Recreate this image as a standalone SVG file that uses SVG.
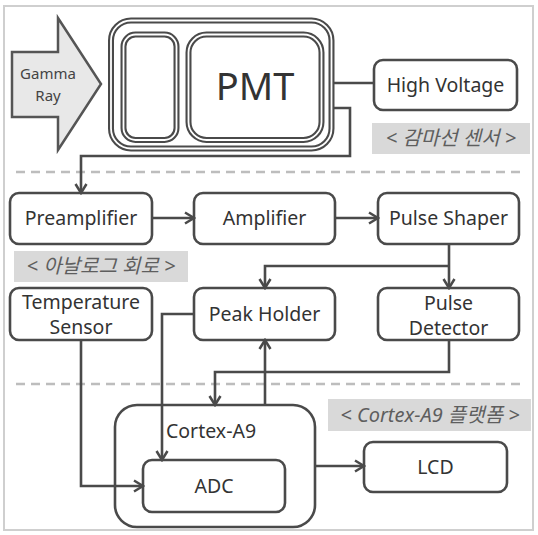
<svg xmlns="http://www.w3.org/2000/svg" width="538" height="535" viewBox="0 0 538 535">
<defs>
<marker id="arr" markerUnits="userSpaceOnUse" markerWidth="14" markerHeight="14" viewBox="0 0 14 14" refX="12" refY="7" orient="auto">
<path d="M3,1.5 L12,7 L3,12.5" fill="none" stroke="#4a4a4a" stroke-width="2.5" stroke-linejoin="miter"/>
</marker>
<style>
.box{fill:#fff;stroke:#4a4a4a;stroke-width:2.6}
.dbl{fill:none;stroke:#4a4a4a;stroke-width:6}
.dblw{fill:none;stroke:#fff;stroke-width:1.8}
.t{font-family:"Noto Sans","Open Sans","Noto Sans CJK KR",sans-serif;font-size:19.5px;fill:#333;text-anchor:middle}
.lbl{fill:#d9d9d9}
.lt{font-family:"Noto Sans","Noto Sans CJK KR",sans-serif;font-size:20px;font-style:italic;fill:#5e5e5e;text-anchor:middle}
.c{fill:none;stroke:#4a4a4a;stroke-width:2.6}
.dash{stroke:#bdbdbd;stroke-width:2.5;stroke-dasharray:9 6}
</style>
</defs>
<rect x="0" y="0" width="538" height="535" fill="#fff"/>
<rect x="4" y="6" width="529" height="524" fill="none" stroke="#cfcfcf" stroke-width="2"/>

<line class="dash" x1="16" y1="172" x2="522" y2="172"/>
<line class="dash" x1="16" y1="384" x2="522" y2="384"/>

<g id="gamma">
<polygon points="12,52 58,52 58,18 101,84 58,150 58,117 12,117" fill="#e8e8e8" stroke="#555" stroke-width="2.5"/>
<text class="t" x="48" y="79" style="font-size:15px;fill:#444">Gamma</text>
<text class="t" x="48" y="101" style="font-size:15px;fill:#444">Ray</text>
</g>

<g id="pmt">
<rect class="dbl" x="111" y="20.5" width="220.5" height="128" rx="20"/>
<rect class="dblw" x="111" y="20.5" width="220.5" height="128" rx="20"/>
<rect class="dbl" x="123.5" y="34.5" width="53" height="105.5" rx="12"/>
<rect class="dblw" x="123.5" y="34.5" width="53" height="105.5" rx="12"/>
<rect class="dbl" x="188.5" y="34.5" width="133" height="105.5" rx="18"/>
<rect class="dblw" x="188.5" y="34.5" width="133" height="105.5" rx="18"/>
<text class="t" x="255" y="100" style="font-size:38px">PMT</text>
</g>

<g id="hv">
<rect class="box" x="374" y="60" width="143" height="50" rx="9"/>
<text class="t" x="445.5" y="92">High Voltage</text>
</g>

<g id="label1">
<rect class="lbl" x="372" y="123" width="158" height="31"/>
<text class="lt" x="451" y="145">&lt; 감마선 센서 &gt;</text>
</g>

<g id="preamp">
<rect class="box" x="10" y="193" width="142" height="51" rx="9"/>
<text class="t" x="81" y="225">Preamplifier</text>
</g>
<g id="amp">
<rect class="box" x="194" y="193" width="141" height="51" rx="9"/>
<text class="t" x="264.5" y="225">Amplifier</text>
</g>
<g id="shaper">
<rect class="box" x="378" y="193" width="141" height="51" rx="9"/>
<text class="t" x="448.5" y="225">Pulse Shaper</text>
</g>

<g id="label2">
<rect class="lbl" x="14" y="251" width="174" height="31"/>
<text class="lt" x="101" y="273">&lt; 아날로그 회로 &gt;</text>
</g>

<g id="temp">
<rect class="box" x="10" y="288" width="142" height="52" rx="9"/>
<text class="t" x="81" y="309">Temperature</text>
<text class="t" x="81" y="334">Sensor</text>
</g>
<g id="peak">
<rect class="box" x="194" y="288" width="141" height="52" rx="9"/>
<text class="t" x="264.5" y="321">Peak Holder</text>
</g>
<g id="detector">
<rect class="box" x="378" y="288" width="141" height="52" rx="9"/>
<text class="t" x="448.5" y="310">Pulse</text>
<text class="t" x="448.5" y="335">Detector</text>
</g>

<g id="cortex">
<rect class="box" x="115" y="405" width="200" height="122" rx="22"/>
<text class="t" x="166" y="438" style="text-anchor:start">Cortex-A9</text>
</g>
<g id="adc">
<rect class="box" x="143" y="460" width="142" height="52" rx="9"/>
<text class="t" x="214" y="493">ADC</text>
</g>
<g id="lcd">
<rect class="box" x="364" y="442" width="143" height="50" rx="9"/>
<text class="t" x="435.5" y="474">LCD</text>
</g>

<g id="label3">
<rect class="lbl" x="328" y="399" width="203" height="32"/>
<text class="lt" x="430" y="422">&lt; Cortex-A9 플랫폼 &gt;</text>
</g>

<g id="connectors">
<line class="c" x1="334" y1="83" x2="374" y2="83"/>
<polyline class="c" points="334,108 350,108 350,156 81,156 81,193" marker-end="url(#arr)"/>
<line class="c" x1="152" y1="218" x2="194" y2="218" marker-end="url(#arr)"/>
<line class="c" x1="335" y1="218" x2="378" y2="218" marker-end="url(#arr)"/>
<line class="c" x1="449" y1="244" x2="449" y2="288" marker-end="url(#arr)"/>
<polyline class="c" points="449,266 265,266 265,288" marker-end="url(#arr)"/>
<polyline class="c" points="194,314 162,314 162,460" marker-end="url(#arr)"/>
<polyline class="c" points="81,340 81,486 143,486" marker-end="url(#arr)"/>
<polyline class="c" points="449,340 449,372 215,372 215,405" marker-end="url(#arr)"/>
<line class="c" x1="265" y1="405" x2="265" y2="340" marker-end="url(#arr)"/>
<line class="c" x1="315" y1="466" x2="364" y2="466" marker-end="url(#arr)"/>
</g>
</svg>
